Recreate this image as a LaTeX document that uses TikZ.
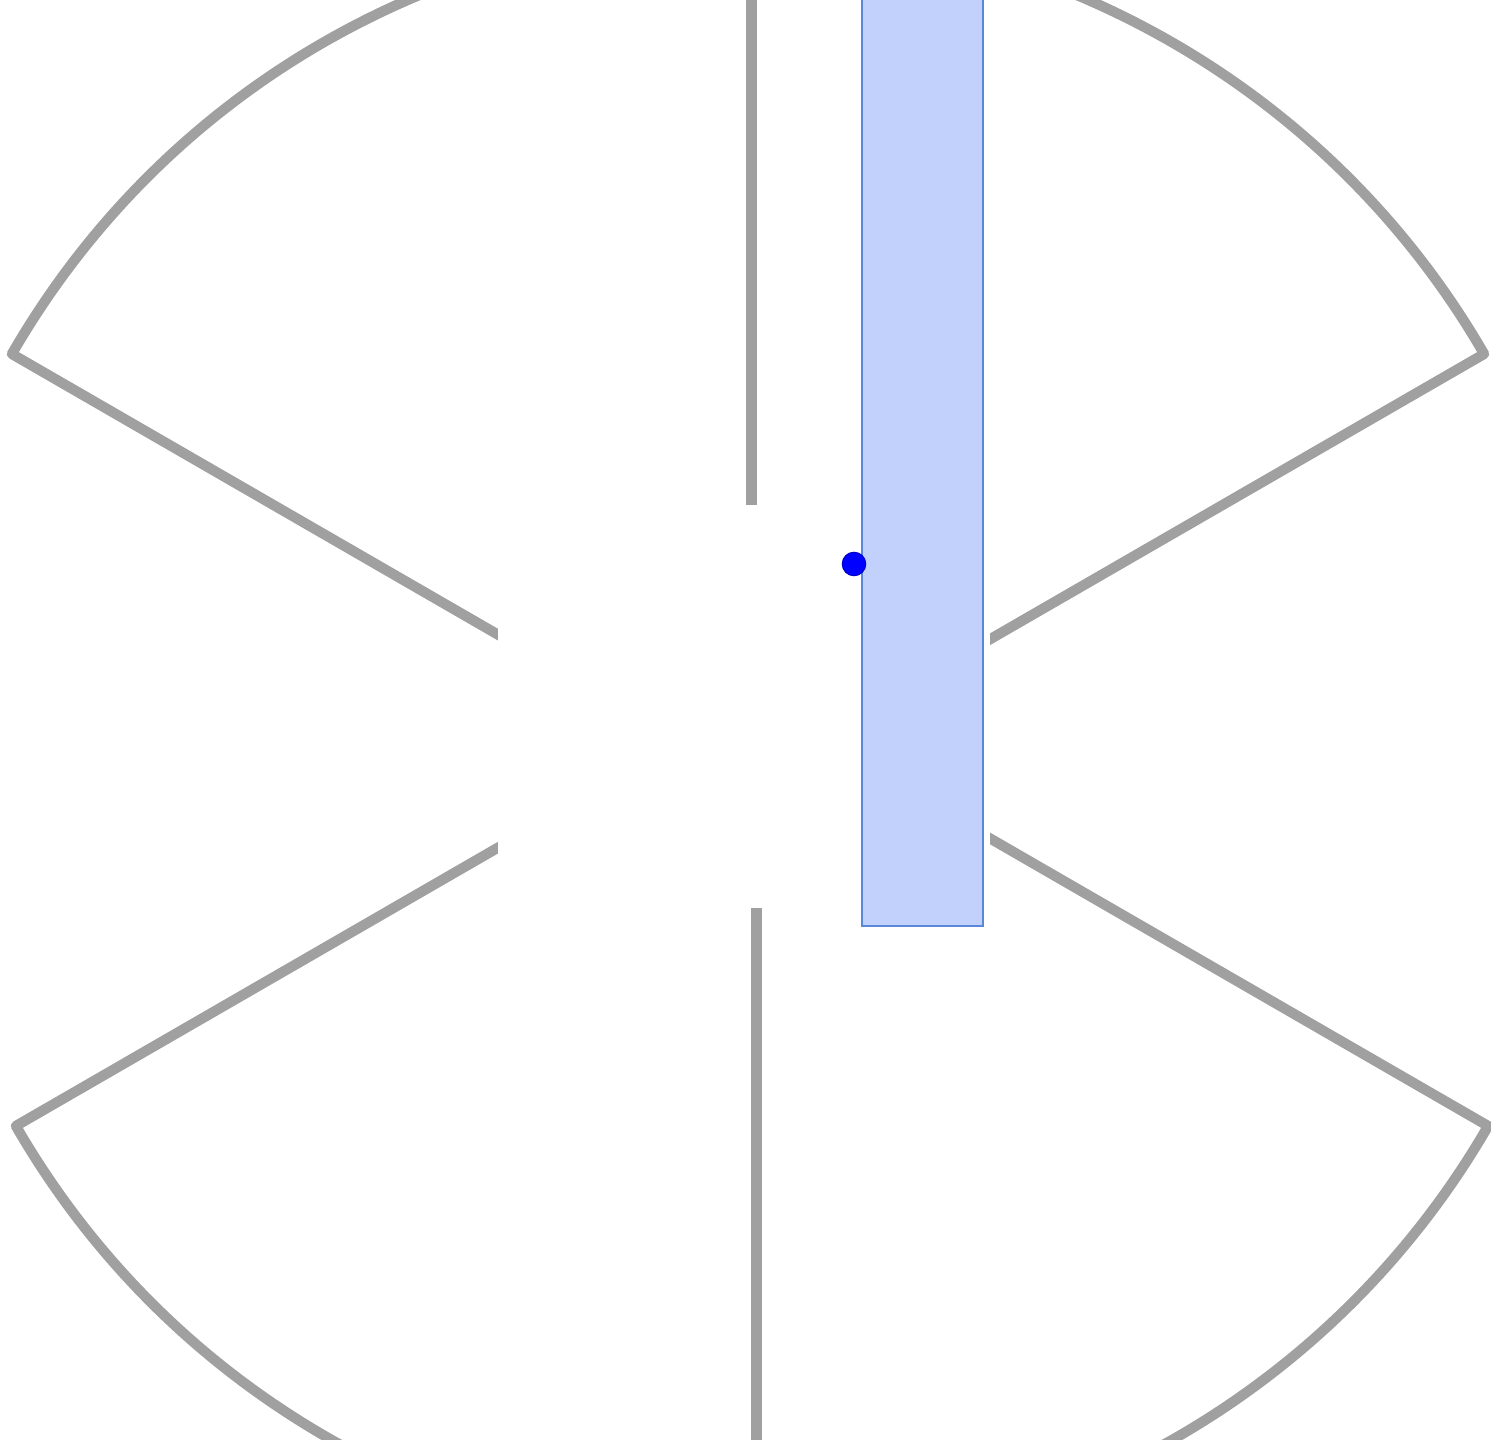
\documentclass[tikz,border=0pt]{standalone}
\usepackage{xcolor}
\usepackage{tikz}
\definecolor{edgegray}{HTML}{A0A0A0}
\definecolor{barfill}{HTML}{C2D0FC}
\definecolor{barline}{HTML}{5A86DC}
\definecolor{dotblue}{HTML}{0000FF}
\begin{document}
\begin{tikzpicture}[
  sector/.style={draw=edgegray,line width=2.9pt,line join=round},
  axis/.style={draw=edgegray,line width=3.1pt},
  gap/.style={fill=white,draw=none},
  bar/.style={fill=barfill,draw=barline,line width=0.45pt},
  marker/.style={circle,fill=dotblue,draw=dotblue!80!black,line width=0.3pt,inner sep=0pt,minimum size=0.235cm}
]
\useasboundingbox (0,0) rectangle (14.91,14.40);
\clip (0,0) rectangle (14.91,14.40);
\coordinate (topapex) at (7.48,6.61);
\coordinate (botapex) at (7.52,7.39);
\draw[sector] (topapex) -- ++(150:8.50) arc[start angle=150,end angle=30,radius=8.50] -- cycle;
\draw[sector] (botapex) -- ++(210:8.50) arc[start angle=210,end angle=330,radius=8.50] -- cycle;
\coordinate (uptop) at (7.515,14.60);
\coordinate (upend) at (7.515,9.35);
\coordinate (downstart) at (7.565,5.32);
\coordinate (downend) at (7.565,-0.20);
\draw[axis] (uptop) -- (upend);
\draw[axis] (downstart) -- (downend);
\path[gap] (4.98,5.32) rectangle (9.90,9.35);
\draw[bar] (8.62,5.14) rectangle (9.83,14.60);
\node[marker] (pivot) at (8.54,8.76) {};
\end{tikzpicture}
\end{document}
